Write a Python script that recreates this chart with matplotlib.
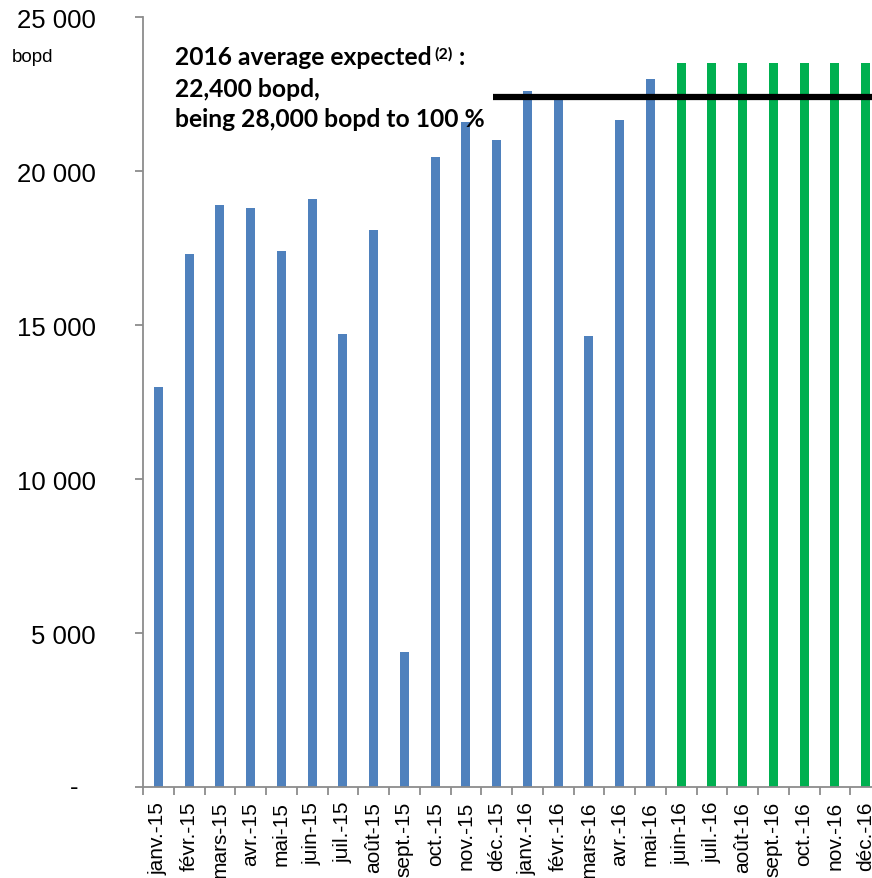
import numpy as np
import matplotlib
matplotlib.use("Agg")
import matplotlib.pyplot as plt
from matplotlib.ticker import FixedLocator, FuncFormatter

# monthly production, bopd
months = ["janv.-15", "févr.-15", "mars-15", "avr.-15", "mai-15", "juin-15",
          "juil.-15", "août-15", "sept.-15", "oct.-15", "nov.-15", "déc.-15",
          "janv.-16", "févr.-16", "mars-16", "avr.-16", "mai-16", "juin-16",
          "juil.-16", "août-16", "sept.-16", "oct.-16", "nov.-16", "déc.-16"]
actual = [13000, 17300, 18900, 18800, 17400, 19100, 14700, 18100, 4400,
          20450, 21600, 21000, 22600, 22450, 14650, 21650, 23000]
forecast = [23500] * 7
avg_2016 = 22400

plt.rcParams['font.family'] = ['Liberation Sans', 'DejaVu Sans']

fig = plt.figure(figsize=(8.72, 8.79), dpi=100)
ax = fig.add_axes([143 / 872, 91 / 879, 738 / 872, (879 - 91 - 18.3) / 879])

x = np.arange(len(months))
n = len(actual)
ax.bar(x[:n], actual, width=0.29, color="#4F81BD", zorder=2)
ax.bar(x[n:], forecast, width=0.29, color="#00B050", zorder=2)

ax.hlines(avg_2016, 10.88, 23.6, color="black", linewidth=4.5, zorder=3)

ax.set_xlim(-0.5, len(months) - 0.5)
ax.set_ylim(0, 25000)

for s in ["top", "right"]:
    ax.spines[s].set_visible(False)
for s in ["left", "bottom"]:
    ax.spines[s].set_color("#8c8c8c")
    ax.spines[s].set_linewidth(1.3)

ax.set_yticks(np.arange(0, 25001, 5000))
ax.yaxis.set_major_formatter(FuncFormatter(
    lambda v, p: "" if v == 0 else f"{int(v):,}".replace(",", " ")))
ax.tick_params(axis="y", direction="out", length=6, width=1.3, color="#8c8c8c",
               labelsize=18.5, pad=28)
# zero is shown as a dash, set a little left of the other labels
ax.text(-0.087, 0, "-", transform=ax.get_yaxis_transform(), fontsize=18.5,
        ha="right", va="center")

ax.set_xticks(x)
ax.set_xticklabels(months, rotation=90)
ax.xaxis.set_minor_locator(FixedLocator(np.arange(-0.5, len(months), 1)))
ax.tick_params(axis="x", which="major", length=0, labelsize=15, pad=10)
ax.tick_params(axis="x", which="minor", direction="out", length=6, width=1.3,
               color="#8c8c8c")

fig.text(12 / 872, 1 - 57 / 879, "bopd", fontsize=13.5, va="center", ha="left")

# annotation for the 2016 average
bold = dict(family=["Lato", "DejaVu Sans"], weight="bold", color="black")
t1 = ax.text(0.55, 23480, "2016 average expected", fontsize=17.7,
             va="baseline", ha="left", zorder=4, **bold)
sup = ax.annotate("(2)", xy=(1.0, 1.0), xycoords=t1, xytext=(2, -1),
                  textcoords="offset points", fontsize=11.5, va="top",
                  ha="left", **bold)
ax.annotate(" :", xy=(1.0, 0.0), xycoords=(sup, t1), fontsize=17.7,
            va="bottom", ha="left", **bold)
ax.text(0.55, 22440, "22,400 bopd,", fontsize=17.7, va="baseline",
        ha="left", zorder=4, **bold)
ax.text(0.55, 21460, "being 28,000 bopd to 100 %", fontsize=17.7,
        va="baseline", ha="left", zorder=4, **bold)

fig.savefig("out.png", dpi=100)
